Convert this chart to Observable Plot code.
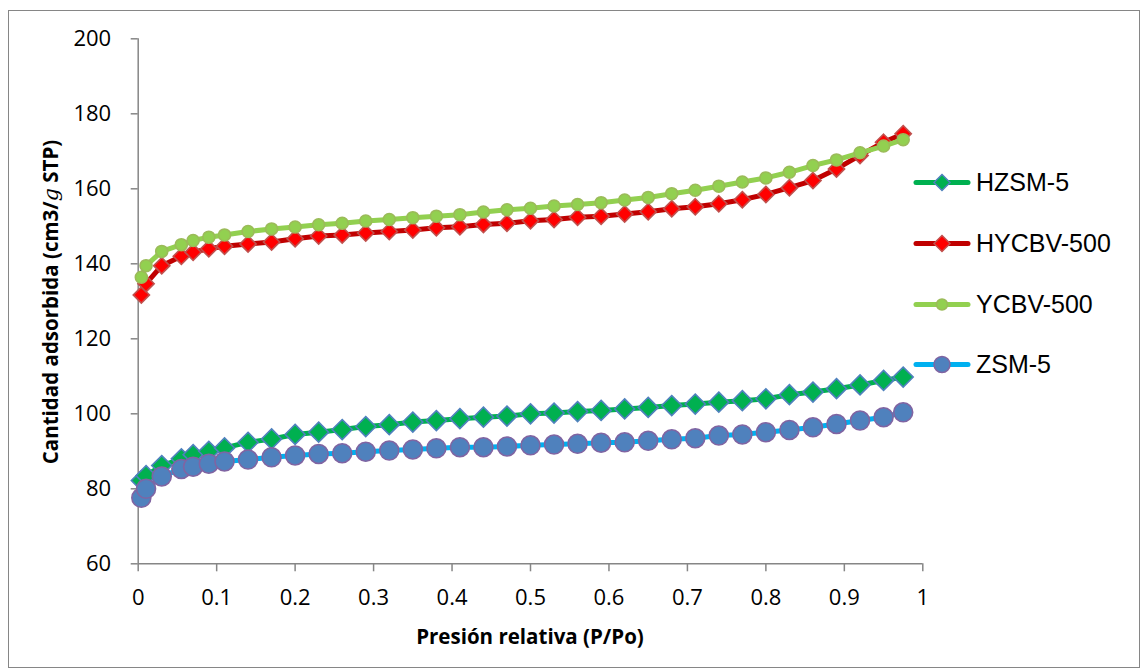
<!DOCTYPE html>
<html>
<head>
<meta charset="utf-8">
<script src="https://cdn.jsdelivr.net/npm/d3@7"></script>
<script src="https://cdn.jsdelivr.net/npm/@observablehq/plot@0.6"></script>
<style>
  html, body { margin: 0; padding: 0; background: #fff; }
  #wrap { position: relative; width: 1147px; height: 670px; overflow: hidden; }
  #frame { position: absolute; left: 8px; top: 10px; width: 1132px; height: 658px; border: 1.5px solid #868686; box-sizing: border-box; }
  #chart { position: absolute; left: 0; top: 0; }
  .ttl { position: absolute; font-family: "Open Sans", sans-serif; font-weight: bold; font-size: 20.5px; color: #000; white-space: nowrap; }
  #ylab { left: 50px; top: 302px; transform: translate(-50%, -50%) rotate(-90deg); }
  #xlab { left: 530px; top: 636px; transform: translate(-50%, -50%); }
  #legend { position: absolute; left: 912px; top: 0; font-family: "Liberation Sans", Arial, sans-serif; font-size: 25px; color: #000; }
  .lg { position: absolute; left: 0; display: flex; align-items: center; white-space: nowrap; transform: translateY(-50%); }
  .lg svg { margin-right: 4px; }
</style>
</head>
<body>
<div id="wrap">
  <div id="frame"></div>
  <div id="chart"></div>
  <div id="ylab" class="ttl">Cantidad adsorbida (cm3/<i style="font-family:'DejaVu Serif',serif;font-weight:normal">g</i> STP)</div>
  <div id="xlab" class="ttl">Presión relativa (P/Po)</div>
  <div id="legend"></div>
</div>
<script>
// Relative pressure (P/Po)
const pressure = [0.004, 0.01, 0.03, 0.055, 0.07, 0.09, 0.11, 0.14, 0.17, 0.20, 0.23, 0.26, 0.29, 0.32, 0.35, 0.38, 0.41, 0.44, 0.47, 0.50, 0.53, 0.56, 0.59, 0.62, 0.65, 0.68, 0.71, 0.74, 0.77, 0.80, 0.83, 0.86, 0.89, 0.92, 0.95, 0.975];

const seriesNames = ["HZSM-5", "HYCBV-500", "YCBV-500", "ZSM-5"];

const hzsm5 = [82.2, 83.5, 86.2, 88.0, 89.1, 90.0, 90.9, 92.4, 93.3, 94.5, 95.1, 95.8, 96.6, 97.1, 97.8, 98.2, 98.7, 99.1, 99.4, 100.0, 100.2, 100.6, 100.9, 101.3, 101.7, 102.2, 102.6, 103.1, 103.5, 104.0, 105.1, 105.8, 106.7, 107.7, 108.9, 109.8];
const hycbv500 = [131.7, 134.7, 139.5, 142.0, 143.1, 144.0, 144.7, 145.3, 145.8, 146.7, 147.4, 147.7, 148.2, 148.6, 149.0, 149.6, 149.9, 150.5, 150.8, 151.5, 151.8, 152.4, 152.7, 153.3, 153.9, 154.7, 155.2, 156.0, 157.1, 158.5, 160.3, 162.2, 165.3, 168.9, 172.4, 174.7];
const ycbv500 = [136.4, 139.5, 143.3, 145.1, 146.2, 147.1, 147.7, 148.6, 149.3, 149.8, 150.4, 150.8, 151.4, 151.8, 152.3, 152.7, 153.1, 153.8, 154.4, 154.8, 155.4, 155.8, 156.3, 157.0, 157.7, 158.7, 159.6, 160.7, 161.8, 162.9, 164.4, 166.2, 167.7, 169.6, 171.4, 173.1];
const zsm5 = [77.6, 80.0, 83.3, 85.3, 85.9, 86.7, 87.3, 87.8, 88.4, 88.9, 89.3, 89.5, 89.9, 90.2, 90.5, 90.8, 91.1, 91.1, 91.3, 91.6, 91.8, 92.0, 92.3, 92.4, 92.8, 93.2, 93.5, 94.2, 94.5, 95.1, 95.7, 96.4, 97.3, 98.2, 99.1, 100.4];

const xTicks = [0, 0.1, 0.2, 0.3, 0.4, 0.5, 0.6, 0.7, 0.8, 0.9, 1];
const yTicks = [60, 80, 100, 120, 140, 160, 180, 200];

// styles per series
const styles = {
  "HZSM-5":    {line: "#00B050", fill: "#00B050", stroke: "#4F81BD", symbol: "diamond2", r: 9},
  "HYCBV-500": {line: "#C00000", fill: "#FF0000", stroke: "#C0504D", symbol: "diamond2", r: 7.3},
  "YCBV-500":  {line: "#92D050", fill: "#92D050", stroke: "#9BBB59", symbol: "circle", r: 6},
  "ZSM-5":     {line: "#00B0F0", fill: "#4F81BD", stroke: "#8064A2", symbol: "circle", r: 9.5}
};

const valuesBySeries = {"HZSM-5": hzsm5, "HYCBV-500": hycbv500, "YCBV-500": ycbv500, "ZSM-5": zsm5};

const marks = [];
for (const name of seriesNames) {
  const s = styles[name];
  const rows = pressure.map((p, i) => ({x: p, y: valuesBySeries[name][i]}));
  marks.push(Plot.line(rows, {x: "x", y: "y", stroke: s.line, strokeWidth: 5, strokeLinejoin: "round", strokeLinecap: "round"}));
  marks.push(Plot.dot(rows, {x: "x", y: "y", symbol: s.symbol, r: s.r, fill: s.fill, stroke: s.stroke, strokeWidth: 1.6}));
}

const chart = Plot.plot({
  width: 1147,
  height: 670,
  marginLeft: 137.7,
  marginRight: 224.7,
  marginTop: 38.3,
  marginBottom: 106.7,
  style: {background: "transparent", fontFamily: "'Open Sans', sans-serif", fontSize: "22px", color: "#000", overflow: "visible"},
  x: {domain: [0, 1]},
  y: {domain: [60, 200]},
  marks: [
    Plot.ruleX([0], {stroke: "#868686", strokeWidth: 1.5}),
    Plot.ruleY([60], {stroke: "#868686", strokeWidth: 1.5}),
    Plot.axisX({ticks: xTicks, tickSize: 8, tickPadding: 18, tickFormat: d => String(+d.toFixed(1)), stroke: "#868686", strokeWidth: 1.5, fill: "#000", label: null}),
    Plot.axisY({ticks: yTicks, tickSize: 7, tickPadding: 20, tickFormat: d => String(d), stroke: "#868686", strokeWidth: 1.5, fill: "#000", label: null}),
    ...marks
  ]
});
document.getElementById("chart").appendChild(chart);

// legend
const legendRows = [182, 243, 304, 364];
const legend = document.getElementById("legend");
seriesNames.forEach((name, i) => {
  const s = styles[name];
  const row = document.createElement("div");
  row.className = "lg";
  row.style.top = legendRows[i] + "px";
  const w = 60, h = 24, cx = w / 2, cy = h / 2;
  let marker;
  if (s.symbol === "circle") {
    const rr = name === "ZSM-5" ? 8 : 5.5;
    marker = `<circle cx="${cx}" cy="${cy}" r="${rr}" fill="${s.fill}" stroke="${s.stroke}" stroke-width="1.5"/>`;
  } else {
    const d = 8;
    marker = `<path d="M${cx},${cy - d}L${cx + d},${cy}L${cx},${cy + d}L${cx - d},${cy}Z" fill="${s.fill}" stroke="${s.stroke}" stroke-width="1.5"/>`;
  }
  row.innerHTML = `<svg width="${w}" height="${h}"><line x1="4" x2="${w - 4}" y1="${cy}" y2="${cy}" stroke="${s.line}" stroke-width="5" stroke-linecap="round"/>${marker}</svg><span>${name}</span>`;
  legend.appendChild(row);
});
</script>
</body>
</html>
